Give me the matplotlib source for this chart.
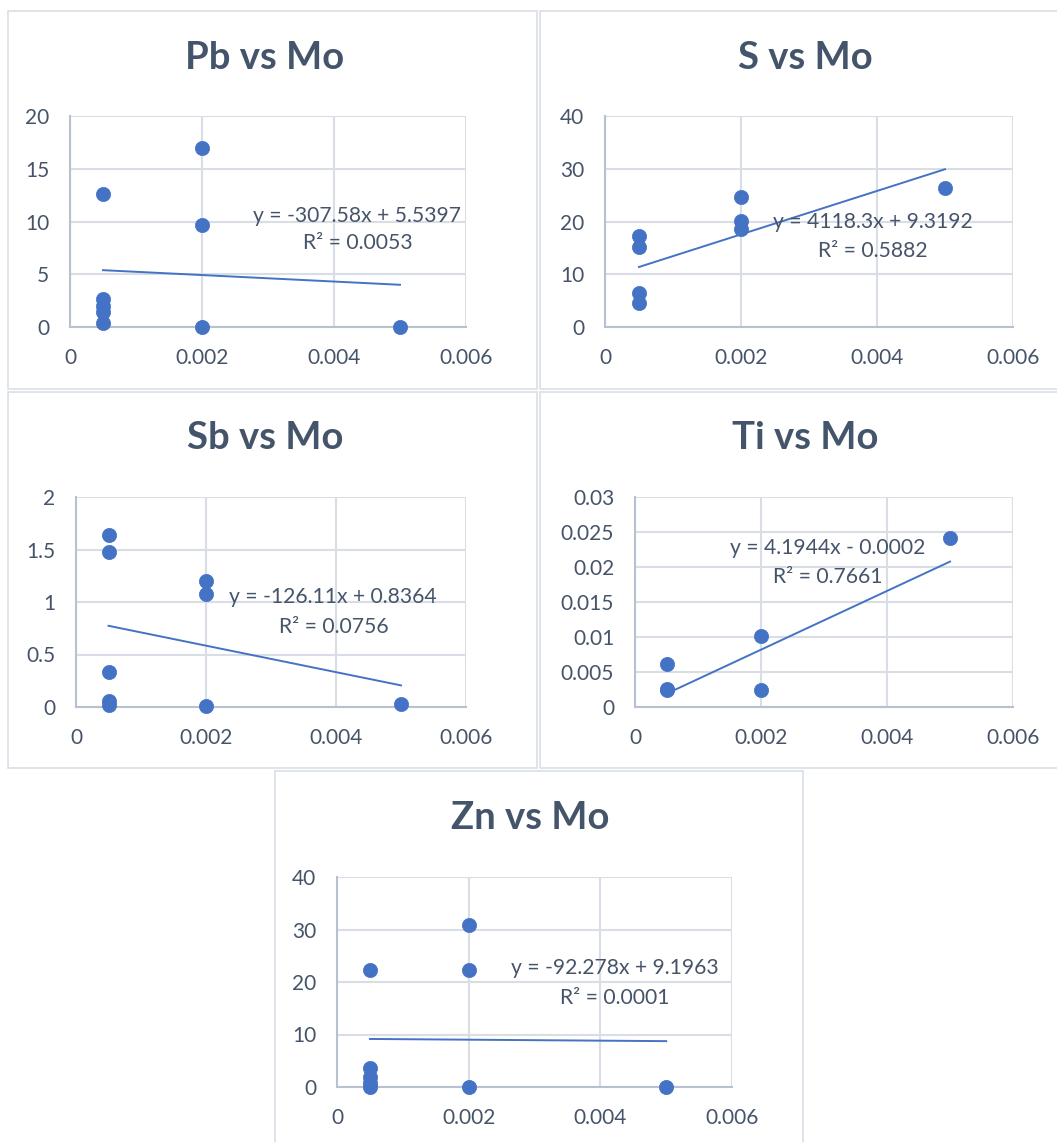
import matplotlib
matplotlib.use("Agg")
import matplotlib.pyplot as plt
from matplotlib.patches import Rectangle

plt.rcParams['font.family'] = ['Lato', 'DejaVu Sans']

# ---------------- data ----------------
titles = ["Pb vs Mo", "S vs Mo", "Sb vs Mo", "Ti vs Mo", "Zn vs Mo"]

pb_x = [0.0005, 0.0005, 0.0005, 0.0005, 0.0005, 0.002, 0.002, 0.002, 0.005]
pb_y = [12.65, 2.63, 1.97, 1.43, 0.38, 16.96, 9.67, 0.0, 0.0]

s_x = [0.0005, 0.0005, 0.0005, 0.0005, 0.002, 0.002, 0.002, 0.005]
s_y = [17.2, 15.2, 6.5, 4.6, 24.6, 20.1, 18.6, 26.4]

sb_x = [0.0005, 0.0005, 0.0005, 0.0005, 0.0005, 0.002, 0.002, 0.002, 0.005]
sb_y = [1.639, 1.477, 0.333, 0.057, 0.02, 1.204, 1.075, 0.013, 0.029]

ti_x = [0.0005, 0.0005, 0.0005, 0.002, 0.002, 0.005]
ti_y = [0.0061, 0.0026, 0.0025, 0.0101, 0.0025, 0.0241]

zn_x = [0.0005, 0.0005, 0.0005, 0.0005, 0.0005, 0.002, 0.002, 0.002, 0.005]
zn_y = [22.26, 3.69, 1.97, 0.7, 0.0, 30.84, 22.26, 0.0, 0.0]

slopes = [-307.58, 4118.3, -126.11, 4.1944, -92.278]
intercepts = [5.5397, 9.3192, 0.8364, -0.0002, 9.1963]
equations = ["y = -307.58x + 5.5397", "y = 4118.3x + 9.3192", "y = -126.11x + 0.8364",
             "y = 4.1944x - 0.0002", "y = -92.278x + 9.1963"]
r2_labels = ["R² = 0.0053", "R² = 0.5882", "R² = 0.0756", "R² = 0.7661", "R² = 0.0001"]

x_ticks = [0, 0.002, 0.004, 0.006]
x_ticklabels = ["0", "0.002", "0.004", "0.006"]
y_ticks = [[0, 5, 10, 15, 20],
           [0, 10, 20, 30, 40],
           [0, 0.5, 1, 1.5, 2],
           [0, 0.005, 0.01, 0.015, 0.02, 0.025, 0.03],
           [0, 10, 20, 30, 40]]
y_ticklabels = [["0", "5", "10", "15", "20"],
                ["0", "10", "20", "30", "40"],
                ["0", "0.5", "1", "1.5", "2"],
                ["0", "0.005", "0.01", "0.015", "0.02", "0.025", "0.03"],
                ["0", "10", "20", "30", "40"]]

xs = [pb_x, s_x, sb_x, ti_x, zn_x]
ys = [pb_y, s_y, sb_y, ti_y, zn_y]

# ---------------- layout (pixels) ----------------
W, H = 1057, 1142
panels = [(8, 537, 11, 389), (540, 1060, 11, 389), (8, 537, 392, 768),
          (540, 1060, 392, 768), (275, 803, 771, 1145)]
axes_px = [(70, 466, 116, 327), (605, 1013, 116, 327), (76, 466, 497, 707),
           (635, 1013, 497, 707), (337, 732, 877, 1087)]
title_pos = [(265, 58), (805, 58), (265, 438), (805, 438), (530, 818)]
eq_pos = [(357, 216), (873, 222), (333, 597), (828, 548), (615, 968)]
r2_pos = [(358, 243), (873, 251), (334, 627), (828, 577), (615, 998)]

BLUE = "#4472C4"
GRID = "#D9DEE6"
AXIS = "#B7C1D0"
TXT = "#46546A"
TITLE = "#44546A"

fig = plt.figure(figsize=(W / 100, H / 100), dpi=100)
fig.patch.set_facecolor("white")

for (x0, x1, y0, y1) in panels:
    fig.patches.append(Rectangle((x0 / W, 1 - y1 / H), (x1 - x0) / W, (y1 - y0) / H,
                                 transform=fig.transFigure, fill=False,
                                 edgecolor=GRID, linewidth=1.2))

for i in range(5):
    x0, x1, y0, y1 = axes_px[i]
    ax = fig.add_axes([x0 / W, 1 - y1 / H, (x1 - x0) / W, (y1 - y0) / H])
    ax.set_xlim(x_ticks[0], x_ticks[-1])
    ax.set_ylim(y_ticks[i][0], y_ticks[i][-1])
    ax.set_xticks(x_ticks)
    ax.set_xticklabels(x_ticklabels)
    ax.set_yticks(y_ticks[i])
    ax.set_yticklabels(y_ticklabels[i])
    ax.grid(True, color=GRID, linewidth=1.5, zorder=0)
    ax.set_axisbelow(True)
    for side in ("top", "right"):
        ax.spines[side].set_visible(False)
    for side in ("left", "bottom"):
        ax.spines[side].set_color(AXIS)
        ax.spines[side].set_linewidth(1.5)
    ax.tick_params(length=0, labelsize=15, labelcolor=TXT)
    ax.tick_params(axis="y", pad=15)
    ax.tick_params(axis="x", pad=15)

    ax.scatter(xs[i], ys[i], s=105, color=BLUE, edgecolor=BLUE, linewidth=0.5,
               zorder=3, clip_on=False)
    lx = [min(xs[i]), max(xs[i])]
    ly = [slopes[i] * v + intercepts[i] for v in lx]
    ax.plot(lx, ly, color=BLUE, linewidth=1.4, zorder=4)

    tx, ty = title_pos[i]
    fig.text(tx / W, 1 - ty / H, titles[i], ha="center", va="center",
             fontsize=27.5, fontweight="bold", color=TITLE)
    ex, ey = eq_pos[i]
    fig.text(ex / W, 1 - ey / H, equations[i], ha="center", va="center",
             fontsize=15.2, color=TXT)
    rx, ry = r2_pos[i]
    fig.text(rx / W, 1 - ry / H, r2_labels[i], ha="center", va="center",
             fontsize=15.2, color=TXT)

fig.savefig("out.png", dpi=100)
